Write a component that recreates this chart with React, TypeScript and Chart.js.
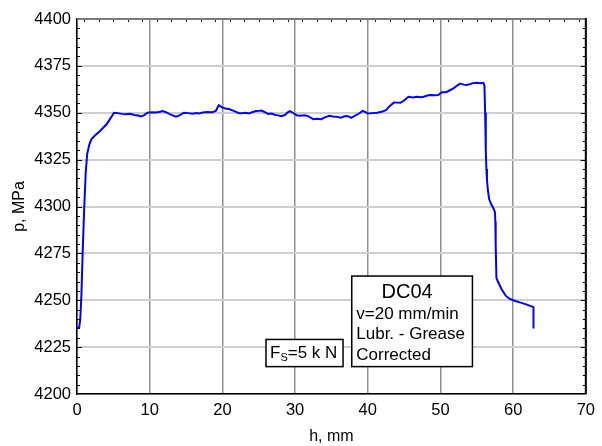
import React, { useEffect, useRef } from "react";
import { Chart, registerables } from "chart.js";

Chart.register(...registerables);

// Stroke h (mm) versus contact pressure p (MPa)
const hValues: number[] = [
  0, 0.3, 0.45, 0.6, 0.8, 1.0, 1.2, 1.4, 1.7, 2.0, 2.5, 3.1, 3.6, 4.1, 4.6, 5.1, 5.6, 6.2, 6.7, 7.3,
  7.9, 8.4, 8.8, 9.2, 9.7, 10.3, 10.9, 11.4, 11.8, 12.3, 12.9, 13.6, 14.1, 14.7, 15.3, 15.9, 16.4, 16.8,
  17.3, 17.9, 18.6, 19.1, 19.5, 19.9, 20.4, 20.9, 21.3, 21.8, 22.3, 22.7, 23.2, 23.7, 24.1, 24.6, 25.0,
  25.4, 25.9, 26.3, 26.8, 27.3, 27.7, 28.1, 28.6, 29.0, 29.3, 29.7, 30.2, 30.7, 31.3, 31.8, 32.2, 32.5,
  33.0, 33.6, 34.1, 34.7, 35.2, 35.8, 36.3, 36.7, 37.0, 37.4, 37.7, 38.2, 38.8, 39.3, 39.7, 40.0, 40.6,
  41.3, 41.9, 42.5, 43.0, 43.6, 44.1, 44.5, 45.0, 45.6, 46.2, 46.8, 47.3, 47.7, 48.2, 48.6, 49.2, 49.7,
  50.2, 50.8, 51.3, 51.8, 52.3, 52.7, 53.2, 53.6, 54.0, 54.5, 55.0, 55.5, 55.9, 56.05, 56.15, 56.24,
  56.32, 56.4, 56.55, 56.7, 57.0, 57.3, 57.5, 57.55, 57.6, 57.7, 57.9, 58.4, 59.0, 59.5, 60.0, 60.8,
  61.8, 62.8, 62.8,
];

const pValues: number[] = [
  4235, 4235.5, 4240, 4252, 4278, 4300, 4318, 4328, 4333, 4336, 4338, 4340, 4342, 4344, 4347, 4350,
  4349.8, 4349.4, 4349.2, 4349.4, 4348.8, 4348.5, 4348.0, 4348.6, 4350.0, 4350.3, 4350.2, 4350.5,
  4350.9, 4350.2, 4349.0, 4347.9, 4348.6, 4350.0, 4349.8, 4349.5, 4349.9, 4349.6, 4350.1, 4350.4,
  4350.3, 4351.0, 4354.0, 4353.0, 4352.3, 4352.0, 4351.4, 4350.6, 4349.8, 4349.8, 4350.0, 4349.6,
  4350.3, 4350.9, 4351.0, 4351.2, 4350.2, 4349.4, 4349.6, 4348.8, 4348.6, 4348.2, 4348.8, 4350.2,
  4350.9, 4350.0, 4348.7, 4348.4, 4348.6, 4348.2, 4347.2, 4346.6, 4346.8, 4346.6, 4347.5, 4348.4,
  4348.0, 4347.8, 4347.3, 4348.0, 4348.3, 4348.0, 4347.3, 4348.3, 4349.6, 4351.0, 4350.3, 4349.6,
  4349.8, 4350.0, 4350.5, 4351.4, 4353.5, 4355.5, 4355.4, 4355.3, 4356.5, 4358.5, 4358.2, 4358.5,
  4358.3, 4358.5, 4359.2, 4359.4, 4359.3, 4359.5, 4361.0, 4361.0, 4362.0, 4363.0, 4364.5, 4365.6,
  4365.0, 4364.8, 4365.2, 4365.8, 4366.0, 4365.8, 4366.0, 4364.5, 4350, 4330, 4320, 4314, 4308,
  4304, 4301, 4299, 4297, 4292, 4280, 4262, 4260, 4256, 4252.3, 4250.8, 4250, 4249, 4247.8, 4246.3,
  4235,
];

const X_MIN = 0;
const X_MAX = 70;
const X_STEP = 10;
const Y_MIN = 4200;
const Y_MAX = 4400;
const Y_STEP = 25;

const X_TITLE = "h, mm";
const Y_TITLE = "p, MPa";

const FS_LABEL = { main: "F", sub: "S", rest: "=5 k N" };
const INFO_TITLE = "DC04";
const INFO_LINES = ["v=20 mm/min", "Lubr. - Grease", "Corrected"];

const FONT = '"Liberation Sans", Arial, sans-serif';

// Minor tick marks on the frame and the two text boxes
const framePlugin = {
  id: "frameAndNotes",
  afterDraw(chart: any) {
    const { ctx, chartArea, scales } = chart;
    const xs = scales.x;
    const ys = scales.y;
    const { left, right, top, bottom } = chartArea;
    ctx.save();

    // left and right axes: inward ticks every 5 MPa
    ctx.strokeStyle = "#000";
    ctx.lineWidth = 1;
    for (let v = Y_MIN + 5; v < Y_MAX; v += 5) {
      const y = Math.round(ys.getPixelForValue(v)) + 0.5;
      const len = (v - Y_MIN) % Y_STEP === 0 ? 5 : 3;
      ctx.beginPath();
      ctx.moveTo(left, y);
      ctx.lineTo(left + len, y);
      ctx.stroke();
      ctx.beginPath();
      ctx.moveTo(right, y);
      ctx.lineTo(right - len, y);
      ctx.stroke();
    }

    // top axis: small ticks at odd millimetres
    ctx.strokeStyle = "#222";
    for (let v = X_MIN + 1; v < X_MAX; v += 2) {
      const x = Math.round(xs.getPixelForValue(v)) + 0.5;
      ctx.beginPath();
      ctx.moveTo(x, top);
      ctx.lineTo(x, top + 3);
      ctx.stroke();
    }

    // top border (grey) and right border (black)
    ctx.lineWidth = 2;
    ctx.strokeStyle = "#7a7a7a";
    ctx.beginPath();
    ctx.moveTo(left, top);
    ctx.lineTo(right + 1, top);
    ctx.stroke();
    ctx.strokeStyle = "#000";
    ctx.beginPath();
    ctx.moveTo(right, top - 1);
    ctx.lineTo(right, bottom);
    ctx.stroke();

    // F_S box
    const b1x = xs.getPixelForValue(26);
    const b1r = xs.getPixelForValue(36.6);
    const b1y = ys.getPixelForValue(4229.1);
    const b1b = ys.getPixelForValue(4214.6);
    ctx.fillStyle = "#fff";
    ctx.fillRect(b1x, b1y, b1r - b1x, b1b - b1y);
    ctx.lineWidth = 1.5;
    ctx.strokeStyle = "#000";
    ctx.strokeRect(b1x, b1y, b1r - b1x, b1b - b1y);
    ctx.fillStyle = "#000";
    ctx.textBaseline = "alphabetic";
    ctx.textAlign = "left";
    let tx = b1x + 4;
    const base1 = b1y + 18.5;
    ctx.font = `17px ${FONT}`;
    ctx.fillText(FS_LABEL.main, tx, base1);
    tx += ctx.measureText(FS_LABEL.main).width;
    ctx.font = `11px ${FONT}`;
    ctx.fillText(FS_LABEL.sub, tx, base1 + 3.5);
    tx += ctx.measureText(FS_LABEL.sub).width;
    ctx.font = `17px ${FONT}`;
    ctx.fillText(FS_LABEL.rest, tx, base1);

    // info box
    const b2x = xs.getPixelForValue(37.8);
    const b2r = xs.getPixelForValue(54.4);
    const b2y = ys.getPixelForValue(4262.9);
    const b2b = b1b;
    ctx.fillStyle = "#fff";
    ctx.fillRect(b2x, b2y, b2r - b2x, b2b - b2y);
    ctx.strokeRect(b2x, b2y, b2r - b2x, b2b - b2y);
    ctx.fillStyle = "#000";
    ctx.font = `20px ${FONT}`;
    ctx.textAlign = "center";
    ctx.fillText(INFO_TITLE, (b2x + b2r) / 2 - 5, b2y + 21.5);
    ctx.font = `17px ${FONT}`;
    ctx.textAlign = "left";
    INFO_LINES.forEach((line, i) => {
      ctx.fillText(line, b2x + 4.5, b2y + 42.5 + i * 20.5);
    });

    ctx.restore();
  },
};

export default function App() {
  const canvasRef = useRef<HTMLCanvasElement | null>(null);

  useEffect(() => {
    document.body.style.margin = "0";
    const canvas = canvasRef.current;
    if (!canvas) return;
    const points = hValues.map((h, i) => ({ x: h, y: pValues[i] }));

    const chart = new Chart(canvas, {
      type: "scatter",
      data: {
        datasets: [
          {
            data: points,
            showLine: true,
            borderColor: "#0000ff",
            borderWidth: 2,
            pointRadius: 0,
            tension: 0,
            fill: false,
          },
        ],
      },
      options: {
        responsive: false,
        animation: false,
        layout: { padding: { left: 0, top: 19, right: 12, bottom: 0 } },
        plugins: {
          legend: { display: false },
          tooltip: { enabled: false },
        },
        scales: {
          x: {
            type: "linear",
            min: X_MIN,
            max: X_MAX,
            afterFit: (scale: any) => {
              scale.height = 52;
            },
            ticks: {
              stepSize: X_STEP,
              color: "#000",
              padding: 7,
              font: { family: FONT, size: 16.5 },
              callback: (v: any) => String(v),
            },
            grid: {
              color: "#8f8f8f",
              lineWidth: 1.5,
              drawTicks: false,
            },
            border: { color: "#000", width: 1.5 },
            title: {
              display: true,
              text: X_TITLE,
              color: "#000",
              font: { family: FONT, size: 16 },
              padding: { top: 0, bottom: 0 },
            },
          },
          y: {
            type: "linear",
            min: Y_MIN,
            max: Y_MAX,
            afterFit: (scale: any) => {
              scale.width = 77;
            },
            ticks: {
              stepSize: Y_STEP,
              color: "#000",
              padding: 6,
              font: { family: FONT, size: 16.5 },
              callback: (v: any) => String(v),
            },
            grid: {
              color: "#cfcfcf",
              lineWidth: 2,
              drawTicks: false,
            },
            border: { color: "#000", width: 1.5 },
            title: {
              display: true,
              text: Y_TITLE,
              color: "#000",
              font: { family: FONT, size: 16 },
              padding: { top: 10, bottom: 0 },
            },
          },
        },
      },
      plugins: [framePlugin],
    } as any);

    return () => chart.destroy();
  }, []);

  return (
    <div style={{ position: "absolute", left: 0, top: 0, width: 602, height: 446, background: "#fff" }}>
      <canvas ref={canvasRef} width={602} height={446} />
    </div>
  );
}
